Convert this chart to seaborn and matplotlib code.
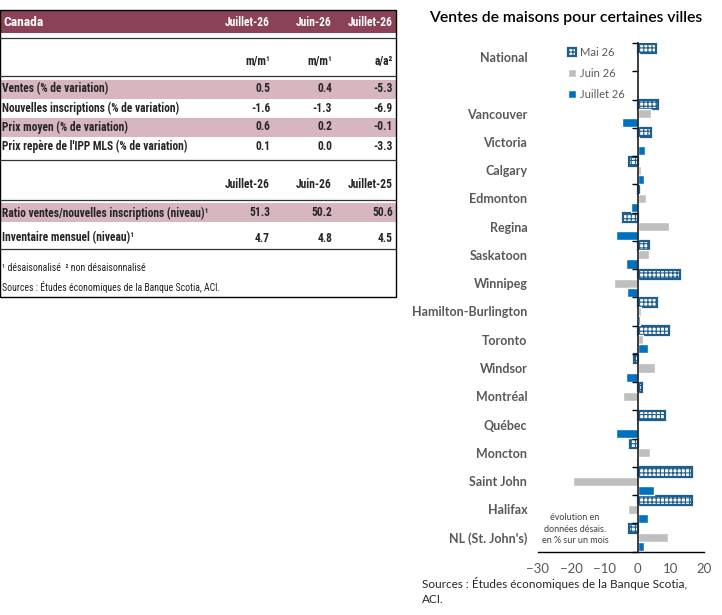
import numpy as np
import pandas as pd
import seaborn as sns
import matplotlib.pyplot as plt
from matplotlib import font_manager as fm
from matplotlib.patches import Rectangle

sns.set_theme(style="white")
plt.rcParams['font.family'] = ['Lato', 'DejaVu Sans']
plt.rcParams['hatch.linewidth'] = 0.8

# bar chart data (% change, seasonally adjusted, month over month)
villes = ['National', 'Vancouver', 'Victoria', 'Calgary', 'Edmonton', 'Regina',
          'Saskatoon', 'Winnipeg', 'Hamilton-Burlington', 'Toronto', 'Windsor',
          'Montréal', 'Québec', 'Moncton', 'Saint John', 'Halifax', "NL (St. John's)"]
mai_26 = [5.5, 6.1, 3.9, -2.7, 0.5, -4.5, 3.4, 12.6, 5.7, 9.4, -1.1, 1.3, 8.2, -2.4, 16.4, 16.4, -2.6]
juin_26 = [0.4, 3.9, 0.3, 1.0, 2.5, 9.4, 3.4, -7.1, 1.0, 1.6, 5.2, -4.4, 0.2, 3.6, -19.4, -2.9, 9.0]
juillet_26 = [0.5, -4.7, 2.2, 1.9, -2.0, -6.5, -3.5, -3.2, 0.7, 3.1, -3.5, 0.2, -6.5, -0.6, 4.9, 3.0, 1.9]
mois = ['Mai 26', 'Juin 26', 'Juillet 26']
ordre = ['National', ''] + villes[1:]   # empty slot after National

# table data
col_entetes = ['Juillet-26', 'Juin-26', 'Juillet-26']
col_unites = ['m/m¹', 'm/m¹', 'a/a²']
lignes_var = ['Ventes (% de variation)', 'Nouvelles inscriptions (% de variation)',
              'Prix moyen (% de variation)', "Prix repère de l'IPP MLS (% de variation)"]
valeurs_var = [['0.5', '0.4', '-5.3'], ['-1.6', '-1.3', '-6.9'],
               ['0.6', '0.2', '-0.1'], ['0.1', '0.0', '-3.3']]
col_entetes2 = ['Juillet-26', 'Juin-26', 'Juillet-25']
lignes_niv = ['Ratio ventes/nouvelles inscriptions (niveau)¹', 'Inventaire mensuel (niveau)¹']
valeurs_niv = [['51.3', '50.2', '50.6'], ['4.7', '4.8', '4.5']]


def police_etroite():
    # narrow font for the table if one is installed, else a smaller Lato
    for nom in ['Liberation Sans Narrow', 'Roboto Condensed', 'Open Sans Condensed']:
        try:
            fm.findfont(fm.FontProperties(family=nom), fallback_to_default=False)
            return nom, 8.3
        except ValueError:
            pass
    return 'Lato', 7.3


tnom, tsize = police_etroite()
tfont = [tnom, 'DejaVu Sans']

df = pd.DataFrame({'ville': villes, 'Mai 26': mai_26, 'Juin 26': juin_26,
                   'Juillet 26': juillet_26})
df = df.melt(id_vars='ville', var_name='mois', value_name='variation')

fig = plt.figure(figsize=(7.22, 6.15), dpi=100)

# ---------- table (pixel coordinates) ----------
at = fig.add_axes([0, 0, 1, 1], zorder=-1)
at.set_xlim(0, 722)
at.set_ylim(615, 0)
at.axis('off')
maroon = '#8B4257'
rose = '#D7B6C0'
xcols = [270, 332, 393]

at.add_patch(Rectangle((0, 10), 396, 23, color=maroon, lw=0))
for y0 in [80, 118, 203]:
    at.add_patch(Rectangle((0, y0), 396, 19, color=rose, lw=0))
at.add_patch(Rectangle((0, 10), 396, 287, fill=False, ec='black', lw=1))
for yl in [38, 76, 160, 200, 249]:
    at.plot([0, 396], [yl, yl], color='#333333', lw=0.9)

kw = dict(fontsize=tsize, fontweight='bold', family=tfont, va='center')
at.text(3, 22, 'Canada', color='white', fontsize=tsize + 1.4, family=tfont, va='center',
        fontweight='bold')
for x, t in zip(xcols, col_entetes):
    at.text(x, 22, t, color='white', ha='right', **kw)
for x, t in zip(xcols, col_unites):
    at.text(x, 61, t, ha='right', **kw)
for i, (lab, vals) in enumerate(zip(lignes_var, valeurs_var)):
    y = 89 + 19 * i
    at.text(2, y, lab, **kw)
    for x, v in zip(xcols, vals):
        at.text(x, y, v, ha='right', **kw)
for x, t in zip(xcols, col_entetes2):
    at.text(x, 184, t, ha='right', **kw)
for i, (lab, vals) in enumerate(zip(lignes_niv, valeurs_niv)):
    y = 213 + 25 * i
    at.text(2, y, lab, **kw)
    for x, v in zip(xcols, vals):
        at.text(x, y, v, ha='right', **kw)
at.text(2, 268, '¹ désaisonalisé  ² non désaisonnalisé', fontsize=tsize - 1.3, family=tfont,
        va='center', color='#222222')
at.text(2, 287, 'Sources : Études économiques de la Banque Scotia, ACI.', fontsize=tsize - 1.3,
        family=tfont, va='center', color='#222222')

# ---------- bar chart ----------
ax = fig.add_axes([537.7 / 722, 1 - 551.7 / 615, 166.6 / 722, (551.7 - 43) / 615])
sns.barplot(data=df, y='ville', x='variation', hue='mois', order=ordre, hue_order=mois,
            palette=['#FFFFFF', '#BFBFBF', '#0070C0'], orient='h', width=0.96,
            saturation=1, legend=False, ax=ax)
bleu_fonce = '#1F5E8C'
for p in ax.containers[0]:
    p.set_facecolor('white')
    p.set_edgecolor(bleu_fonce)
    p.set_hatch('++++')
    p.set_linewidth(1.6)

ax.set_xlim(-30, 20)
ax.set_ylim(len(ordre) - 0.5, -0.5)
ax.set_xticks([-30, -20, -10, 0, 10, 20])
ax.set_xlabel('')
ax.set_ylabel('')
for s in ['left', 'right', 'top']:
    ax.spines[s].set_visible(False)
ax.spines['bottom'].set_color('black')
ax.spines['bottom'].set_linewidth(1)
ax.tick_params(axis='x', direction='out', length=4, width=1, color='black',
               labelsize=9.5, labelcolor='#595959', pad=4)
ax.tick_params(axis='y', length=0, pad=7.5, labelsize=9, labelcolor='#595959')
for lab in ax.get_yticklabels():
    lab.set_fontweight('bold')

# vertical axis at zero with ticks between categories
sec = ax.secondary_yaxis(0.6)
sec.set_yticks(np.arange(-0.5, len(ordre), 1.0))
sec.set_yticklabels([])
sec.tick_params(axis='y', direction='in', length=4, width=1, color='black')
sec.spines['left'].set_color('black')
sec.spines['left'].set_linewidth(1.3)
sec.set_zorder(5)

ax.legend(ax.containers, mois, loc='upper left', bbox_to_anchor=(568 / 722, 1 - 47 / 615),
          bbox_transform=fig.transFigure, frameon=False, fontsize=8, labelcolor='#595959',
          handlelength=0.7, handleheight=0.7, handletextpad=0.35, labelspacing=0.9,
          borderpad=0, borderaxespad=0)

fig.text(566 / 722, 1 - 18 / 615, 'Ventes de maisons pour certaines villes', ha='center', va='center',
         fontsize=11.3, fontweight='semibold', color='black')
fig.text(575 / 722, 1 - 529 / 615, 'évolution en\ndonnées désais.\nen % sur un mois', ha='center',
         va='center', fontsize=6.5, color='#404040', linespacing=1.35)
fig.text(422 / 722, 1 - 591 / 615, 'Sources : Études économiques de la Banque Scotia,\nACI.', ha='left',
         va='center', fontsize=8.5, color='#262626', linespacing=1.5)

fig.savefig('out.png', dpi=100)
